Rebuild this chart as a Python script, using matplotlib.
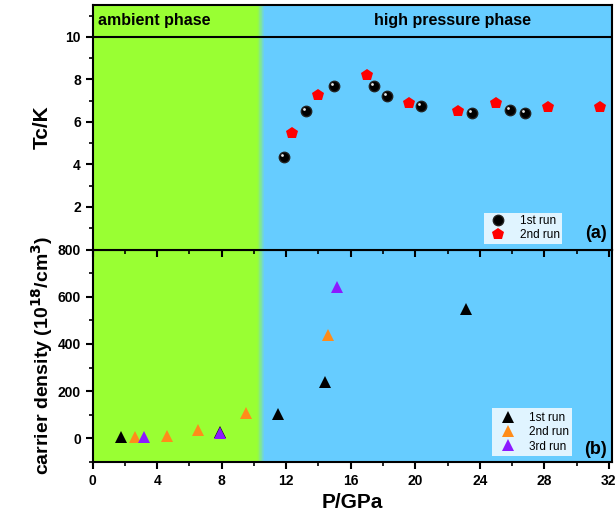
import numpy as np
import matplotlib
matplotlib.use("Agg")
import matplotlib.pyplot as plt
from matplotlib.transforms import offset_copy

plt.rcParams["font.family"] = ["Liberation Sans", "DejaVu Sans"]
plt.rcParams["font.weight"] = "bold"

# Tc vs pressure
p_tc_run1 = [11.84, 13.22, 14.98, 17.42, 18.25, 20.33, 23.51, 25.85, 26.80]
tc_run1 = [4.36, 6.50, 7.70, 7.70, 7.24, 6.77, 6.42, 6.58, 6.42]
p_tc_run2 = [12.33, 13.96, 16.98, 19.59, 22.66, 25.02, 28.22, 31.45]
tc_run2 = [5.48, 7.27, 8.22, 6.88, 6.50, 6.89, 6.72, 6.69]

# carrier density vs pressure
p_n_run1 = [1.76, 7.92, 11.48, 14.43, 23.15]
n_run1 = [6, 27, 102, 238, 547]
p_n_run2 = [2.61, 4.63, 6.54, 9.53, 14.58]
n_run2 = [6, 10, 37, 109, 438]
p_n_run3 = [3.2, 7.92, 15.13]
n_run3 = [6, 23, 641]

green = "#99ff33"
blue = "#66ccff"
split = 10.2
fade = 0.45

fig = plt.figure(figsize=(6.16, 5.22), dpi=100)
ax1 = fig.add_axes([0.1505, 0.522, 0.843, 0.4685])
ax2 = fig.add_axes([0.1505, 0.115, 0.843, 0.407])
ax1.set_zorder(2)
ax2.set_zorder(1)


def background(ax):
    ax.axvspan(0, split, color=green, lw=0, zorder=0)
    ax.axvspan(split + fade, 33, color=blue, lw=0, zorder=0)
    g = np.array(matplotlib.colors.to_rgb(green))
    b = np.array(matplotlib.colors.to_rgb(blue))
    steps = 10
    for i in range(steps):
        c = g + (b - g) * (i + 0.5) / steps
        ax.axvspan(split + fade * i / steps, split + fade * (i + 1) / steps,
                   color=c, lw=0, zorder=0)


for ax in (ax1, ax2):
    background(ax)
    ax.set_xlim(0, 32.2)
    for s in ax.spines.values():
        s.set_linewidth(1.5)

# top panel
ax1.set_ylim(0, 11.5)
ax1.axhline(10, color="black", lw=1.5, zorder=1)
ax1.plot(p_tc_run1, tc_run1, "o", color="black", ms=7.5, mec="#222222",
         label="1st run", zorder=3)
hl = offset_copy(ax1.transData, fig=fig, x=-1.3, y=1.3, units="points")
ax1.plot(p_tc_run1, tc_run1, "o", color="white", ms=2, mew=0,
         transform=hl, zorder=4, alpha=0.9)
ax1.plot(p_tc_run2, tc_run2, "p", color="red", ms=9, mew=0,
         label="2nd run", zorder=3)
ax1.set_yticks([2, 4, 6, 8, 10])
ax1.set_yticks([1, 3, 5, 7, 9, 11], minor=True)
# ticks on the shared border point down into the lower panel
ax1.set_xticks(np.arange(0, 33, 4))
ax1.set_xticks(np.arange(2, 33, 4), minor=True)
ax1.tick_params(axis="x", which="major", direction="out", length=5,
                width=1.5, labelbottom=False)
ax1.tick_params(axis="x", which="minor", direction="out", length=3,
                width=1.2)
ax1.tick_params(axis="y", which="major", direction="out", length=5,
                width=1.5, labelsize=10)
ax1.tick_params(axis="y", which="minor", direction="out", length=3,
                width=1.2)
ax1.set_ylabel("Tc/K", fontsize=15, fontweight="bold", labelpad=10)
ax1.text(0.3, 10.75, "ambient phase", fontsize=11.5, fontweight="bold",
         va="center", ha="left")
ax1.text(22.3, 10.75, "high pressure phase", fontsize=11.5,
         fontweight="bold", va="center", ha="center")
leg1 = ax1.legend(loc="lower right", bbox_to_anchor=(0.915, 0.0),
                  frameon=True, fontsize=8.5, handletextpad=0.8,
                  borderpad=0.2, labelspacing=0.15, fancybox=False)
leg1.get_frame().set_linewidth(0)
for t in leg1.get_texts():
    t.set_fontweight("normal")
ax1.text(31.9, 0.35, "(a)", fontsize=13, fontweight="bold", ha="right",
         va="bottom")

# bottom panel
ax2.set_ylim(-100, 800)
ax2.plot(p_n_run1, n_run1, "^", color="black", ms=8.5, mew=0,
         label="1st run", zorder=3)
ax2.plot(p_n_run2, n_run2, "^", color="#ff8c1a", ms=8.5, mew=0,
         label="2nd run", zorder=3)
ax2.plot(p_n_run3, n_run3, "^", color="#8c1aff", ms=8.5, mew=0,
         label="3rd run", zorder=3)
ax2.set_yticks([0, 200, 400, 600, 800])
ax2.set_yticks([-100, 100, 300, 500, 700], minor=True)
ax2.set_xticks(np.arange(0, 33, 4))
ax2.set_xticks(np.arange(2, 33, 4), minor=True)
ax2.tick_params(axis="both", which="major", direction="out", length=5,
                width=1.5, labelsize=10)
ax2.tick_params(axis="both", which="minor", direction="out", length=3,
                width=1.2)
ax2.set_ylabel("carrier density (10$^{\\mathbf{18}}$/cm$^{\\mathbf{3}}$)",
               fontsize=14, fontweight="bold", labelpad=2)
ax2.set_xlabel("P/GPa", fontsize=15, fontweight="bold")
leg2 = ax2.legend(loc="lower right", bbox_to_anchor=(0.935, 0.0),
                  frameon=True, fontsize=8.5, handletextpad=0.8,
                  borderpad=0.3, labelspacing=0.2, fancybox=False)
leg2.get_frame().set_linewidth(0)
for t in leg2.get_texts():
    t.set_fontweight("normal")
ax2.text(31.9, -85, "(b)", fontsize=13, fontweight="bold", ha="right",
         va="bottom")

fig.savefig("out.png", dpi=100)
